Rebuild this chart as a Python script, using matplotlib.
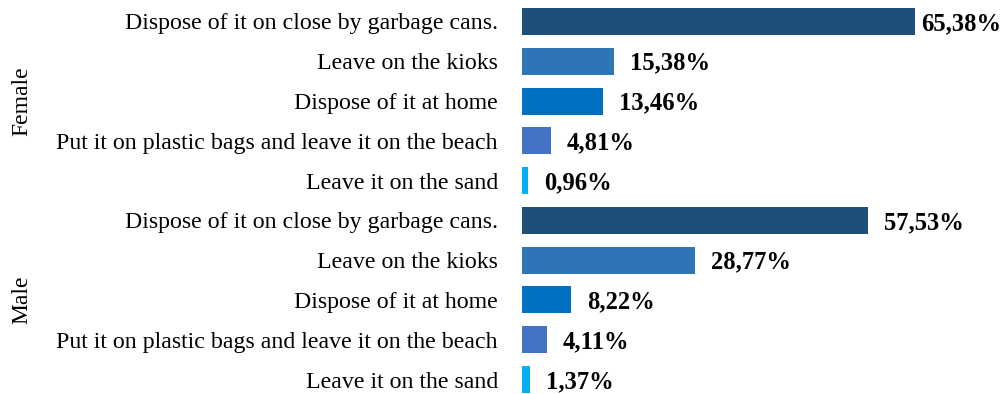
import matplotlib
matplotlib.use("Agg")
import matplotlib.pyplot as plt

# Survey responses: what respondents do with their beach waste, by gender
groups = ["Female", "Male"]
categories = [
    "Dispose of it on close by garbage cans.",
    "Leave on the kioks",
    "Dispose of it at home",
    "Put it on plastic bags and leave it on the beach",
    "Leave it on the sand",
]
female_values = [65.38, 15.38, 13.46, 4.81, 0.96]
male_values = [57.53, 28.77, 8.22, 4.11, 1.37]
bar_colors = ["#1F4E79", "#2E75B6", "#0070C0", "#4472C4", "#00B0F0"]

plt.rcParams["font.family"] = ["Liberation Serif", "DejaVu Serif"]

W, H = 1004, 394
fig = plt.figure(figsize=(W / 100, H / 100), dpi=100)

# Axes geometry in pixels
x0_px = 522
px_per_unit = 6.01
xmax = 70
ax_w_px = xmax * px_per_unit
ax = fig.add_axes([x0_px / W, 0, ax_w_px / W, 1])

row_top_center = 21.5
pitch = 39.78
ylim_top = -row_top_center / pitch
ylim_bot = (H - row_top_center) / pitch

values = female_values + male_values
labels = categories + categories
colors = bar_colors + bar_colors
rows = list(range(len(values)))

ax.barh(rows, values, height=0.68, color=colors)
ax.set_xlim(0, xmax)
ax.set_ylim(ylim_bot, ylim_top)
ax.set_yticks(rows)
ax.set_yticklabels(labels, fontsize=17.2)
ax.tick_params(axis="y", length=0, pad=17.3)
ax.set_xticks([])
for s in ax.spines.values():
    s.set_visible(False)

# Value labels to the right of each bar
texts = []
for r, v in zip(rows, values):
    t = ax.annotate(f"{v:.2f}%".replace(".", ","), xy=(v, r), xytext=(16, -2),
                    textcoords="offset pixels", ha="left", va="center",
                    fontsize=17.7, fontweight="bold", annotation_clip=False)
    texts.append(t)

# Pull back any label that would run past the right edge
fig.canvas.draw()
renderer = fig.canvas.get_renderer()
for t in texts:
    bb = t.get_window_extent(renderer)
    if bb.x1 > W - 3:
        t.set_position((16 - (bb.x1 - (W - 3)), -2))

# Group labels
for gi, g in enumerate(groups):
    center = gi * 5 + 2
    yc = 1 - (row_top_center + center * pitch) / H
    fig.text(22 / W, yc, g, rotation=90, ha="center", va="center", fontsize=17)

fig.savefig("out.png", dpi=100)
